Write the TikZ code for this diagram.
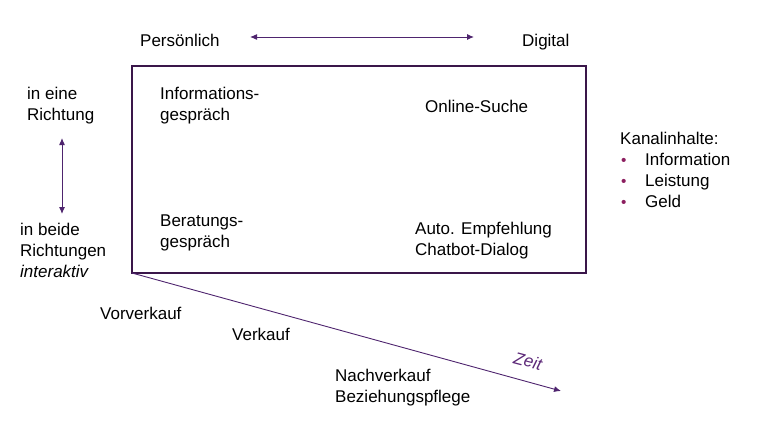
\documentclass[tikz,border=0pt]{standalone}
\usepackage{fontspec}
\setmainfont{Liberation Sans}
\usetikzlibrary{arrows.meta}
\definecolor{boxc}{RGB}{58,22,74}
\definecolor{arrc}{RGB}{78,36,110}
\definecolor{zeitc}{RGB}{92,40,120}
\definecolor{bulc}{RGB}{140,30,95}
\tikzset{
  lbl/.style={anchor=base west, inner sep=0pt, align=left, font=\fontsize{17}{21}\selectfont},
  thinarrow/.style={draw=arrc, line width=1pt, {Latex[length=7pt,width=6pt]}-{Latex[length=7pt,width=6pt]}},
}
\newcommand{\bul}{\makebox[25pt][l]{\hspace{1pt}\textcolor{bulc}{\scalebox{0.9}{•}}}}
\begin{document}
\begin{tikzpicture}[x=1pt,y=-1pt]
\useasboundingbox (0,0) rectangle (757,431);
% main box
\draw[boxc, line width=2.6pt] (132,66) rectangle (586,273);
\coordinate (origin) at (132,273);
% axis labels (base anchor = baseline of last line)
\node[lbl] (pers) at (140,46) {Persönlich};
\node[lbl] (dig) at (522,46) {Digital};
\coordinate (ha) at (250,37);
\coordinate (hb) at (474,37);
\draw[thinarrow] (ha) -- (hb);
\node[lbl] (eine) at (27,120) {in eine\\Richtung};
\coordinate (va) at (62,138);
\coordinate (vb) at (62,214);
\draw[thinarrow] (va) -- (vb);
\node[lbl] (beide) at (20,277) {in beide\\Richtungen\\\textit{interaktiv}};
% quadrants
\node[lbl] (info) at (160,120) {Informations-\\gespräch};
\node[lbl] (online) at (425,112) {Online-Suche};
\node[lbl] (ber) at (160,247) {Beratungs-\\gespräch};
\node[lbl] (auto) at (415,255) {Auto. Empfehlung\\Chatbot-Dialog};
% channel contents
\node[lbl] (kanal) at (620,207) {Kanalinhalte:\\\bul Information\\\bul Leistung\\\bul Geld};
% time axis
\coordinate (tend) at (561,391);
\draw[draw=arrc, line width=0.9pt, -{Latex[length=7pt,width=6pt]}] (origin) -- (tend);
\node[anchor=center, inner sep=0pt, rotate=-15, text=zeitc, font=\fontsize{17}{20}\selectfont\itshape] (zeit) at (528,361) {Zeit};
\node[lbl] (vor) at (100,319) {Vorverkauf};
\node[lbl] (ver) at (232,340) {Verkauf};
\node[lbl] (nach) at (335,402) {Nachverkauf\\Beziehungspflege};
\end{tikzpicture}
\end{document}
